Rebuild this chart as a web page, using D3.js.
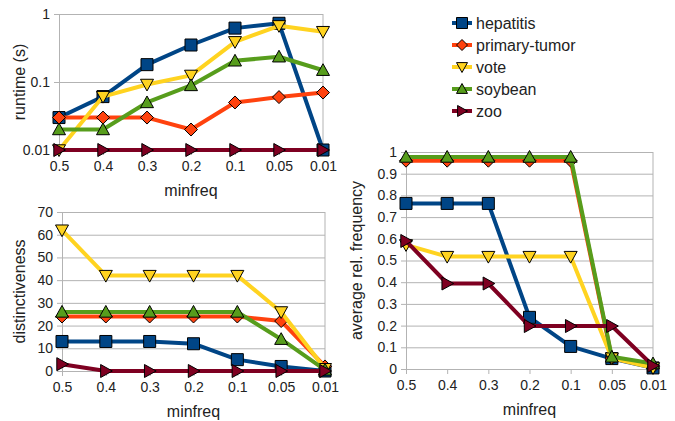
<!DOCTYPE html>
<html>
<head>
<meta charset="utf-8">
<script src="https://cdn.jsdelivr.net/npm/d3@7.9.0/dist/d3.min.js"></script>
<style>
  body { margin: 0; background: #fff; }
  svg { font-family: "Liberation Sans", Arial, sans-serif; }
  .tick text { font-size: 14px; fill: #222; }
  .title { font-size: 16px; fill: #222; }
</style>
</head>
<body>
<svg id="chart" width="675" height="421"></svg>
<script>
const minfreq = ['0.5', '0.4', '0.3', '0.2', '0.1', '0.05', '0.01'];
const seriesNames = ['hepatitis', 'primary-tumor', 'vote', 'soybean', 'zoo'];
const colors = ['#004586', '#ff420e', '#ffd320', '#579d1c', '#7e0021'];
const shapes = ['square', 'diamond', 'down', 'up', 'right'];

// runtime (s), log scale
const runtime = [
  [0.03, 0.061, 0.18, 0.35, 0.62, 0.73, 0.01],
  [0.03, 0.03, 0.03, 0.02, 0.05, 0.06, 0.07],
  [0.01, 0.061, 0.092, 0.125, 0.39, 0.67, 0.55],
  [0.02, 0.02, 0.05, 0.089, 0.205, 0.235, 0.149],
  [0.01, 0.01, 0.01, 0.01, 0.01, 0.01, 0.01]
];
const distinct = [
  [13, 13, 13, 12, 5, 2, 0],
  [24, 24, 24, 24, 24, 22, 2],
  [62, 42, 42, 42, 42, 26, 1],
  [26, 26, 26, 26, 26, 14, 0.5],
  [3, 0, 0, 0, 0, 0, 0]
];
const avgFreq = [
  [0.763, 0.763, 0.763, 0.238, 0.104, 0.048, 0.005],
  [0.96, 0.96, 0.96, 0.96, 0.96, 0.05, 0.01],
  [0.572, 0.518, 0.518, 0.518, 0.518, 0.05, 0.005],
  [0.977, 0.977, 0.977, 0.977, 0.977, 0.056, 0.025],
  [0.59, 0.394, 0.394, 0.198, 0.198, 0.198, 0.015]
];
const runtimeTicks = [0.01, 0.1, 1];
const distinctTicks = [0, 10, 20, 30, 40, 50, 60, 70];
const freqTicks = d3.range(0, 11).map(d => d / 10);

const svg = d3.select('#chart');
const gridColor = '#b3b3b3';

function markerPath(shape, r) {
  switch (shape) {
    case 'square': return `M${-r},${-r}H${r}V${r}H${-r}Z`;
    case 'diamond': return `M0,${-r}L${r},0L0,${r}L${-r},0Z`;
    case 'down': return `M${-r},${-r * 0.8}H${r}L0,${r}Z`;
    case 'up': return `M${-r},${r * 0.8}H${r}L0,${-r}Z`;
    case 'right': return `M${-r * 0.8},${-r}V${r}L${r},0Z`;
  }
}

function drawPanel(opts) {
  const { left, right, top, bottom, y, ticks, fmt, data, yTitle, yTitleX } = opts;
  const g = svg.append('g');
  const x = d3.scalePoint().domain(minfreq).range([left, right]).padding(0);
  y.range([bottom, top]);

  // gridlines
  g.append('g')
    .attr('transform', `translate(${left},0)`)
    .call(d3.axisLeft(y).tickValues(ticks).tickSize(-(right - left)).tickFormat(''))
    .call(a => a.select('.domain').remove())
    .selectAll('line').attr('stroke', gridColor);

  // y axis
  g.append('g')
    .attr('transform', `translate(${left},0)`)
    .call(d3.axisLeft(y).tickValues(ticks).tickSize(5).tickPadding(4).tickFormat(fmt))
    .call(a => a.select('.domain').attr('stroke', gridColor))
    .call(a => a.selectAll('line').attr('stroke', gridColor));

  // right border
  g.append('line').attr('x1', right).attr('x2', right).attr('y1', top).attr('y2', bottom)
    .attr('stroke', gridColor);

  // x axis
  g.append('g')
    .attr('transform', `translate(0,${bottom})`)
    .call(d3.axisBottom(x).tickSize(5).tickPadding(6))
    .call(a => a.select('.domain').attr('stroke', gridColor))
    .call(a => a.selectAll('line').attr('stroke', gridColor));

  g.append('text').attr('class', 'title')
    .attr('x', (left + right) / 2).attr('y', bottom + 46)
    .attr('text-anchor', 'middle').text('minfreq');

  g.append('text').attr('class', 'title')
    .attr('transform', `translate(${yTitleX},${(top + bottom) / 2}) rotate(-90)`)
    .attr('text-anchor', 'middle').text(yTitle);

  const line = d3.line().x((d, i) => x(minfreq[i])).y(d => y(d));
  data.forEach((vals, s) => {
    const sg = g.append('g');
    sg.append('path').attr('d', line(vals))
      .attr('fill', 'none').attr('stroke', colors[s]).attr('stroke-width', 4)
      .attr('stroke-linejoin', 'round');
    sg.selectAll('path.m').data(vals).join('path').attr('class', 'm')
      .attr('transform', (d, i) => `translate(${x(minfreq[i])},${y(d)})`)
      .attr('d', markerPath(shapes[s], shapes[s] === 'square' ? 6 : 6.5))
      .attr('fill', colors[s]).attr('stroke', '#000').attr('stroke-width', 1);
  });
}

drawPanel({
  left: 59, right: 323, top: 14, bottom: 150,
  y: d3.scaleLog().domain([0.01, 1]),
  ticks: runtimeTicks, fmt: d => String(d),
  data: runtime, yTitle: 'runtime (s)', yTitleX: 25
});

drawPanel({
  left: 62, right: 325, top: 212, bottom: 371,
  y: d3.scaleLinear().domain([0, 70]),
  ticks: distinctTicks, fmt: d => String(d),
  data: distinct, yTitle: 'distinctiveness', yTitleX: 25
});

drawPanel({
  left: 406, right: 653, top: 152, bottom: 369,
  y: d3.scaleLinear().domain([0, 1]),
  ticks: freqTicks, fmt: d => String(d),
  data: avgFreq, yTitle: 'average rel. frequency', yTitleX: 362
});

// legend
const legend = svg.append('g');
seriesNames.forEach((name, s) => {
  const cy = 23 + s * 22;
  legend.append('line').attr('x1', 452).attr('x2', 472).attr('y1', cy).attr('y2', cy)
    .attr('stroke', colors[s]).attr('stroke-width', 4);
  legend.append('path').attr('transform', `translate(462,${cy})`)
    .attr('d', markerPath(shapes[s], 5.5))
    .attr('fill', colors[s]).attr('stroke', '#000').attr('stroke-width', 1);
  legend.append('text').attr('class', 'title').attr('x', 476).attr('y', cy + 6).text(name);
});
</script>
</body>
</html>
